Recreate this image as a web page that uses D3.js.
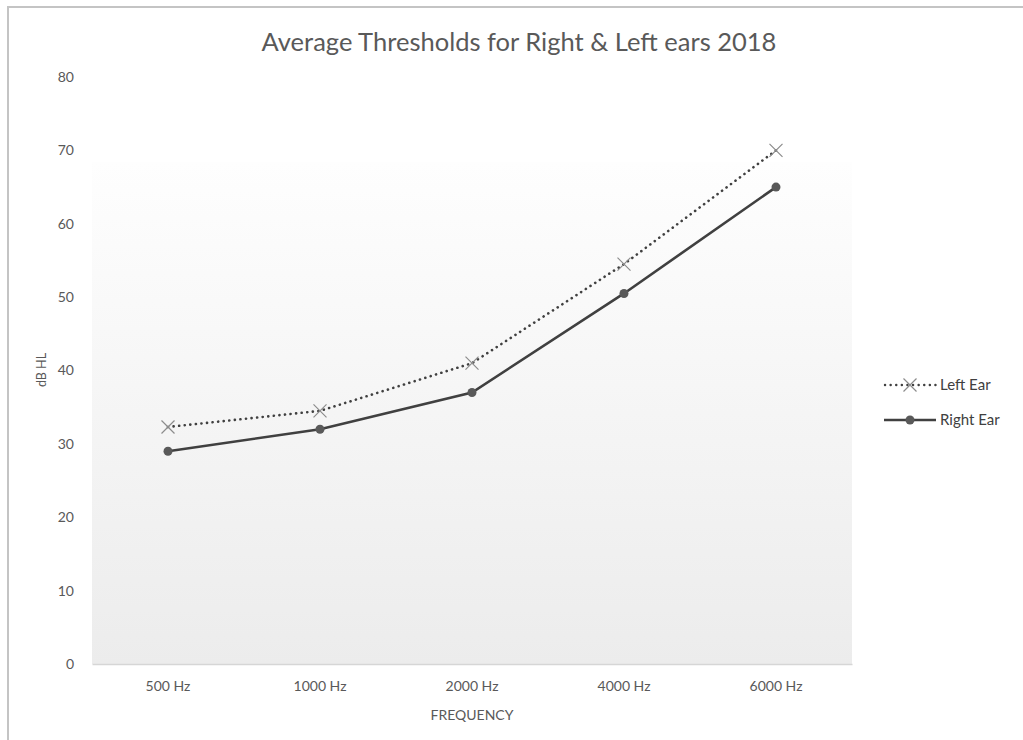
<!DOCTYPE html>
<html>
<head>
<meta charset="utf-8">
<script src="https://cdn.jsdelivr.net/npm/d3@7/dist/d3.min.js"></script>
<style>
  html, body { margin: 0; padding: 0; background: #ffffff; }
  svg { display: block; }
  text { font-family: Lato, "Open Sans", sans-serif; }
</style>
</head>
<body>
<svg id="chart" width="1023" height="740"></svg>
<script>
// Audiometric thresholds (dB HL) per test frequency
const frequencies = ["500 Hz", "1000 Hz", "2000 Hz", "4000 Hz", "6000 Hz"];
const leftEar = [32.3, 34.5, 41, 54.5, 70];
const rightEar = [29, 32, 37, 50.5, 65];
const yTicks = [0, 10, 20, 30, 40, 50, 60, 70, 80];

const svg = d3.select("#chart");
const W = 1023, H = 740;
const plot = { left: 92, right: 852, top: 77, bottom: 664 };
const FONT = "Lato, 'Open Sans', sans-serif";

// outer frame
svg.append("rect")
  .attr("x", 8).attr("y", 7)
  .attr("width", W + 20).attr("height", H + 20)
  .attr("fill", "#ffffff")
  .attr("stroke", "#c4c4c4").attr("stroke-width", 2);

const x = d3.scaleBand().domain(frequencies).range([plot.left, plot.right]).padding(0);
const y = d3.scaleLinear().domain([0, 80]).range([plot.bottom, plot.top]);

// plot-area shading
const defs = svg.append("defs");
const grad = defs.append("linearGradient")
  .attr("id", "plotFill").attr("x1", 0).attr("y1", 0).attr("x2", 0).attr("y2", 1);
grad.append("stop").attr("offset", "0%").attr("stop-color", "#fefefe");
grad.append("stop").attr("offset", "100%").attr("stop-color", "#ececec");

svg.append("rect")
  .attr("x", plot.left).attr("y", 162)
  .attr("width", plot.right - plot.left).attr("height", plot.bottom - 162)
  .attr("fill", "url(#plotFill)");

// title
svg.append("text")
  .attr("x", 519).attr("y", 51)
  .attr("text-anchor", "middle")
  .attr("font-size", 25.5)
  .attr("fill", "#595959")
  .text("Average Thresholds for Right & Left ears 2018");

// y axis labels
const yAxis = d3.axisLeft(y).tickValues(yTicks).tickSize(0).tickPadding(0);
const gy = svg.append("g").attr("transform", "translate(74,0)").call(yAxis);
gy.select(".domain").remove();
gy.selectAll("text")
  .attr("font-size", 14)
  .attr("fill", "#595959")
  .attr("font-family", FONT);

svg.append("text")
  .attr("transform", "translate(46,370) rotate(-90)")
  .attr("text-anchor", "middle")
  .attr("font-size", 12.5)
  .attr("fill", "#595959")
  .text("dB HL");

// x axis
const xAxis = d3.axisBottom(x).tickSize(0).tickPadding(17);
const gx = svg.append("g").attr("transform", `translate(0,${plot.bottom})`).call(xAxis);
gx.select(".domain").attr("stroke", "#d6d6d6").attr("stroke-width", 1.5);
gx.selectAll("text")
  .attr("font-size", 14)
  .attr("fill", "#595959")
  .attr("font-family", FONT);

svg.append("text")
  .attr("x", 472).attr("y", 720)
  .attr("text-anchor", "middle")
  .attr("font-size", 14)
  .attr("fill", "#595959")
  .text("FREQUENCY");

const cx = d => x(d) + x.bandwidth() / 2;
const line = d3.line().x(d => cx(d.f)).y(d => y(d.v));

const leftData = frequencies.map((f, i) => ({ f, v: leftEar[i] }));
const rightData = frequencies.map((f, i) => ({ f, v: rightEar[i] }));

// Left ear: dotted line with cross markers
svg.append("path")
  .datum(leftData)
  .attr("d", line)
  .attr("fill", "none")
  .attr("stroke", "#404040")
  .attr("stroke-width", 2.6)
  .attr("stroke-linecap", "round")
  .attr("stroke-dasharray", "0.1,5.5");

function cross(g, px, py, r) {
  g.append("path")
    .attr("d", `M${px - r},${py - r}L${px + r},${py + r}M${px - r},${py + r}L${px + r},${py - r}`)
    .attr("stroke", "#8c8c8c")
    .attr("stroke-width", 1.2)
    .attr("fill", "none");
}
const gCross = svg.append("g");
leftData.forEach(d => cross(gCross, cx(d.f), y(d.v), 6.5));

// Right ear: solid line with filled circles
svg.append("path")
  .datum(rightData)
  .attr("d", line)
  .attr("fill", "none")
  .attr("stroke", "#404040")
  .attr("stroke-width", 2.6);

svg.append("g").selectAll("circle")
  .data(rightData)
  .join("circle")
  .attr("cx", d => cx(d.f))
  .attr("cy", d => y(d.v))
  .attr("r", 4.5)
  .attr("fill", "#595959");

// legend
const lg = svg.append("g");
lg.append("line")
  .attr("x1", 885).attr("x2", 936).attr("y1", 385).attr("y2", 385)
  .attr("stroke", "#404040").attr("stroke-width", 2.4)
  .attr("stroke-linecap", "round").attr("stroke-dasharray", "0.1,5.5");
cross(lg, 910, 385, 6.5);
lg.append("text").attr("x", 940).attr("y", 390)
  .attr("font-size", 15).attr("fill", "#404040").text("Left Ear");

lg.append("line")
  .attr("x1", 884).attr("x2", 936).attr("y1", 420).attr("y2", 420)
  .attr("stroke", "#404040").attr("stroke-width", 2.6);
lg.append("circle").attr("cx", 910).attr("cy", 420).attr("r", 4.5).attr("fill", "#595959");
lg.append("text").attr("x", 940).attr("y", 425)
  .attr("font-size", 15).attr("fill", "#404040").text("Right Ear");
</script>
</body>
</html>
